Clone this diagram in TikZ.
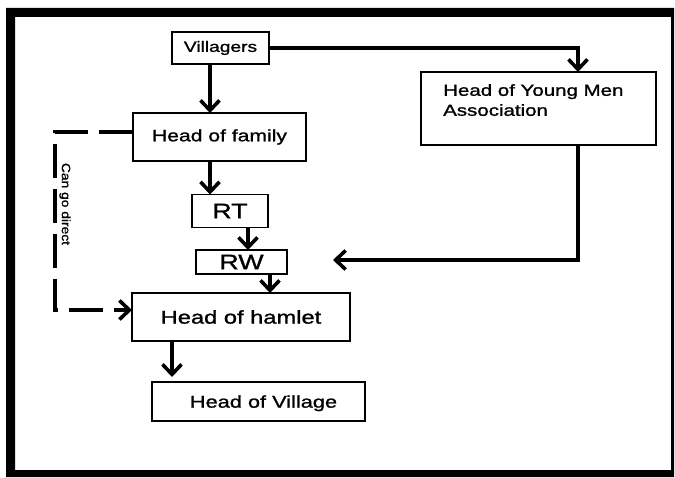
\documentclass[tikz,border=0pt]{standalone}
\usepackage{fontspec}
\setmainfont{Liberation Sans}[FakeStretch=1.28, FakeBold=1.2]
\usetikzlibrary{arrows.meta,calc}

\tikzset{
  box/.style={draw, line width=1.5pt, inner sep=0pt, outer sep=0pt},
  arr/.style={line width=3.6pt, -{Straight Barb[length=10pt,width=19pt]}},
  fs/.style={font=\fontsize{#1}{20}\selectfont},
}

\begin{document}
\begin{tikzpicture}[x=1pt, y=-1pt]
\useasboundingbox (0,0) rectangle (675,478);

% outer frame
\fill[even odd rule] (6,8) rectangle (674,477) (15,17) rectangle (671,470);

% boxes
\node[box, fs=15, minimum width=97, minimum height=32] (vil) at (220.5,48) {Villagers};
\node[box, fs=16.5, minimum width=173, minimum height=48] (fam) at (219.5,137) {Head of family};
\node[box, fs=21, minimum width=76, minimum height=33] (rt) at (230,211) {RT};
\node[box, fs=21, minimum width=91, minimum height=24] (rw) at (241.5,262) {RW};
\node[box, fs=18.5, minimum width=218, minimum height=48] (ham) at (241,317) {Head of hamlet};
\node[box, fs=17, minimum width=213, minimum height=39, text depth=0pt] (vlg) at (258.5,401.5) {\hspace*{10pt}Head of Village};
\node[box, minimum width=235, minimum height=73] (ym) at (538.5,108.5) {};
\node[fs=16, anchor=north west, align=left, inner sep=0pt] (ymt) at ($(ym.north west)+(22,12)$) {Head of Young Men\\Association};

% main chain
\draw[arr] ([xshift=-10.5]vil.south) -- ([xshift=-9.5]fam.north);
\draw[arr] ([xshift=-9.5]fam.south) -- ([xshift=-20]rt.north);
\draw[arr] ([xshift=18]rt.south) -- ([xshift=6.5]rw.north);
\draw[arr] ([xshift=28.5]rw.south) -- ([xshift=29]ham.north);
\draw[arr] ([xshift=-69]ham.south) -- ([xshift=-86.5,yshift=5]vlg.north);

% young men association branch
\draw[arr] (vil.east) -| ([xshift=39.5]ym.north);
\coordinate (ymend) at (333,260);
\draw[arr] ([xshift=39.5]ym.south) |- (ymend);

% direct route
\draw[arr, dash pattern=on 34pt off 11pt] ([yshift=5]fam.west) -- ++(-78,0) |- ([yshift=7]ham.west);
\node[rotate=-90, fs=12] (lbl) at (65,204) {\addfontfeature{FakeStretch=1.15}Can go direct};
\end{tikzpicture}
\end{document}
